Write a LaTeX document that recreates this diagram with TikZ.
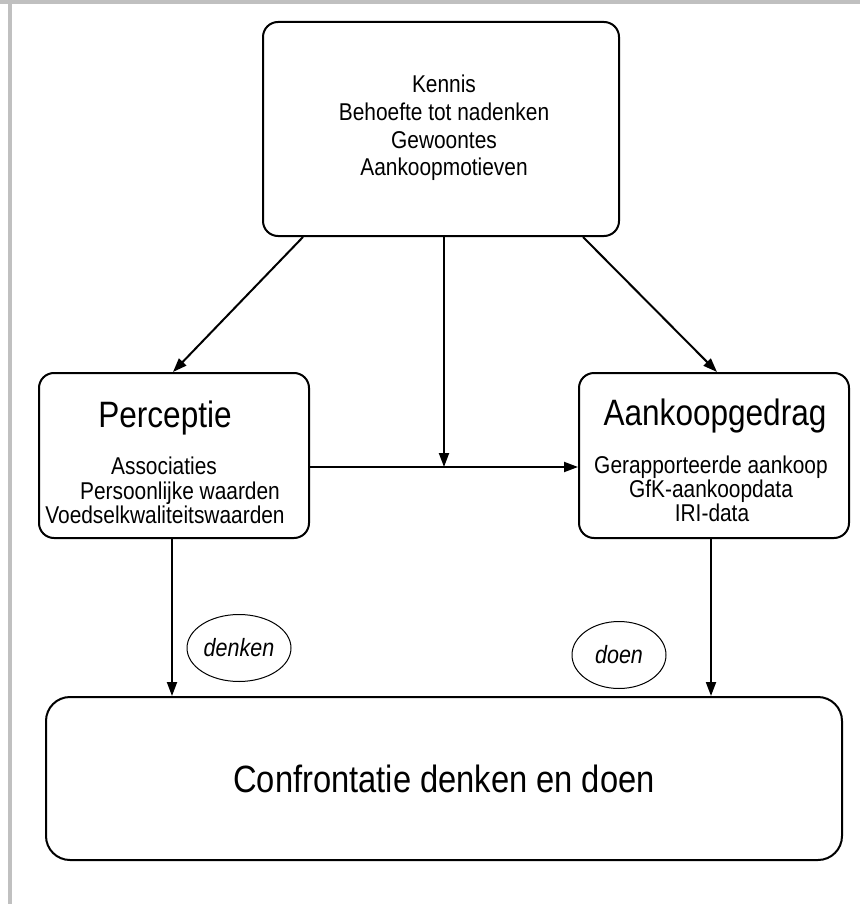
\documentclass[tikz,border=0pt]{standalone}
\usepackage{fontspec}
\setmainfont{Liberation Sans}[FakeStretch=0.86]
\usetikzlibrary{arrows.meta,calc,shapes.geometric}
\begin{document}
\begin{tikzpicture}[x=1pt,y=-1pt,
  box/.style={draw,line width=2pt,rounded corners=15pt,inner sep=0pt},
  ell/.style={draw,line width=1pt,ellipse,inner sep=0pt},
  arr/.style={line width=2pt,-{Triangle[length=14pt,width=10pt]}},
  ln/.style={anchor=base,inner sep=0pt},
  small/.style={font=\fontsize{24.3}{26}\selectfont},
  big/.style={font=\fontsize{36.7}{40}\selectfont}]
\useasboundingbox (0,0) rectangle (860,904);
\fill[fill={rgb,255:red,192;green,192;blue,192}] (0,0) rectangle (860,4);
\fill[fill={rgb,255:red,192;green,192;blue,192}] (8,0) rectangle (12,904);
% boxes
\node[box,minimum width=356,minimum height=214] (top) at (441,129) {};
\node[box,minimum width=270,minimum height=165] (per) at (174,455.5) {};
\node[box,minimum width=270,minimum height=165] (aank) at (714,455.5) {};
\node[box,rounded corners=24pt,minimum width=796,minimum height=163] (bot) at (444,778.5) {};
% top texts
\node[ln,small] (t1) at (444,93) {Kennis};
\node[ln,small] (t2) at (444,120.7) {Behoefte tot nadenken};
\node[ln,small] (t3) at (444,148.2) {Gewoontes};
\node[ln,small] (t4) at (444,175.7) {Aankoopmotieven};
% perception texts
\node[ln,big] (p0) at (165,427) {Perceptie};
\node[ln,small] (p1) at (164,474) {Associaties};
\node[ln,small] (p2) at (180,499) {Persoonlijke waarden};
\node[ln,small] (p3) at (165,523) {Voedselkwaliteitswaarden};
% aankoop texts
\node[ln,big] (a0) at (715,425) {Aankoopgedrag};
\node[ln,small] (a1) at (711,473) {Gerapporteerde aankoop};
\node[ln,small] (a2) at (711,497) {GfK-aankoopdata};
\node[ln,small] (a3) at (712,521) {IRI-data};
% bottom text
\node[ln,font=\fontsize{38}{42}\selectfont] (b0) at (444,792) {Confrontatie denken en doen};
% ellipses
\node[ell,minimum width=104,minimum height=67,font=\itshape\fontsize{25}{28}\selectfont] (den) at (239,648) {denken};
\node[ell,minimum width=94,minimum height=67,font=\itshape\fontsize{25}{28}\selectfont] (doe) at (619,655) {doen};
% connectors
\coordinate (mid) at (444,467);
\draw[arr] ($(top.south)+(-138,0)$) -- ($(per.north)+(-1,0)$);
\draw[arr] ($(top.south)+(142,0)$) -- ($(aank.north)+(3,0)$);
\draw[arr] ($(top.south)+(3,0)$) -- (mid);
\draw[arr] (per.east |- mid) -- (aank.west |- mid);
\draw[arr] ($(per.south)+(-2,0)$) coordinate (d1) -- (d1 |- bot.north);
\draw[arr] ($(aank.south)+(-3,0)$) coordinate (d2) -- (d2 |- bot.north);
\end{tikzpicture}
\end{document}
